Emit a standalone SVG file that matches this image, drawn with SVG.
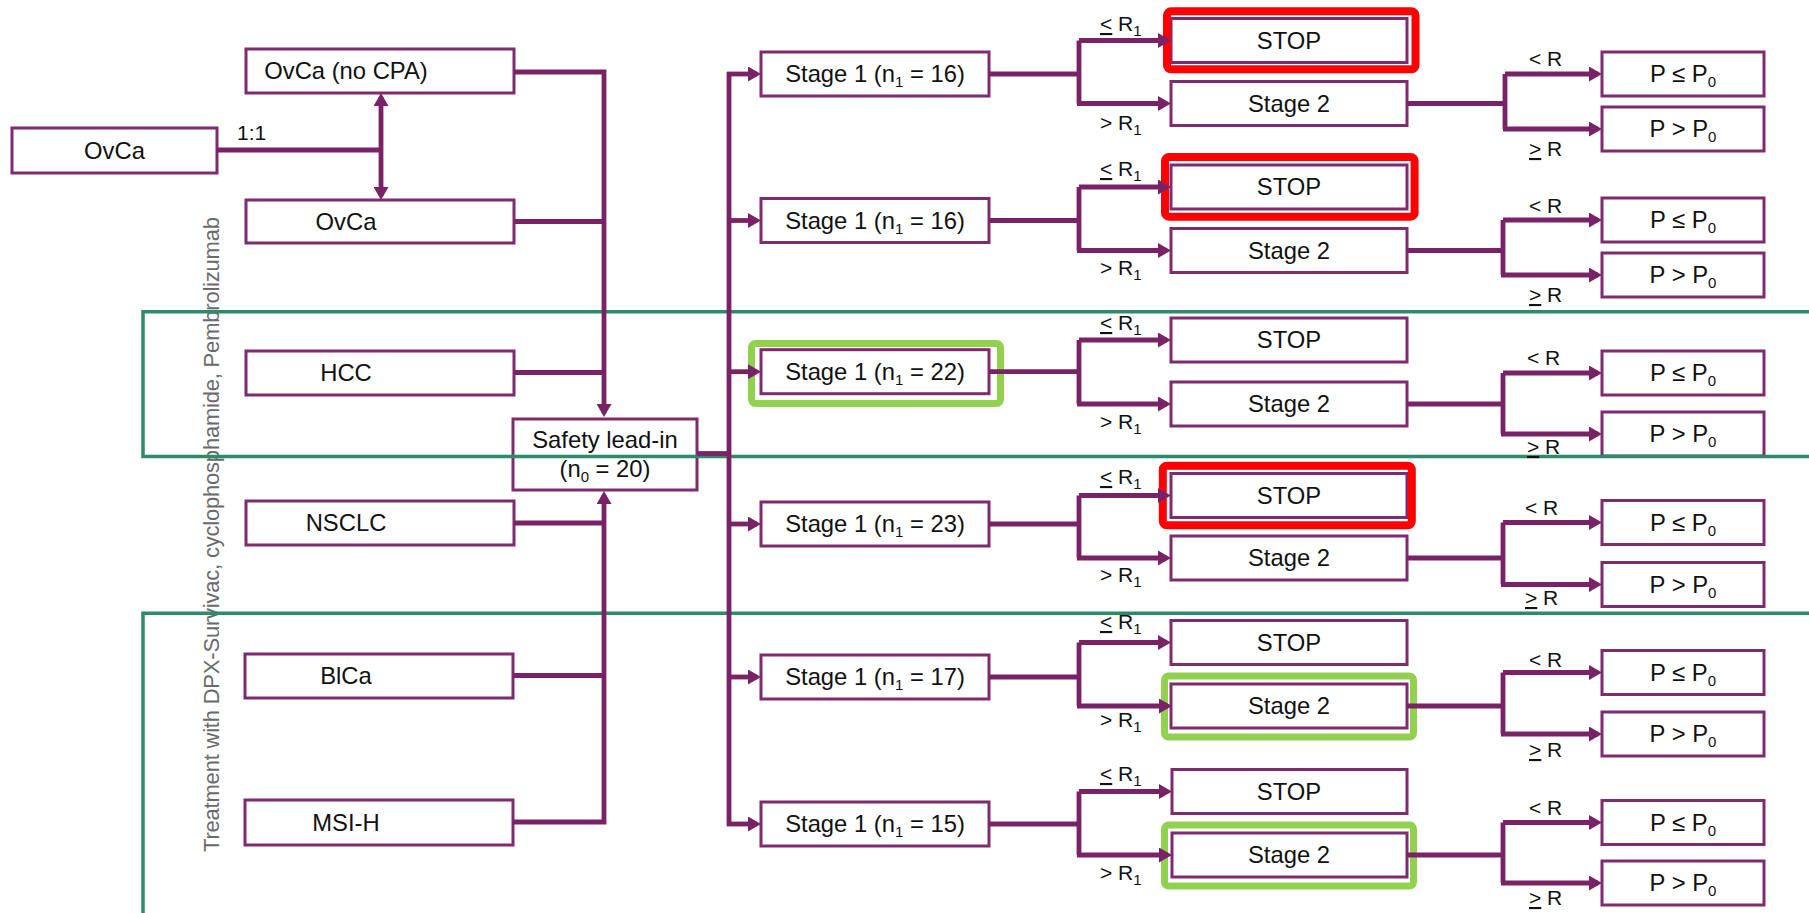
<svg xmlns="http://www.w3.org/2000/svg" width="1809" height="913" viewBox="0 0 1809 913">
<style>
.box{fill:#fff;stroke:#7F2B6F;stroke-width:3}
.t{font-family:"Liberation Sans",Arial,sans-serif;font-size:23.8px;fill:#111;text-anchor:middle}
.lbl{font-family:"Liberation Sans",Arial,sans-serif;font-size:21px;fill:#111}
.sub{font-size:15px}
.ul{text-decoration:underline}
.con{fill:none;stroke:#7A2266;stroke-width:4.8}
.arr{fill:none;stroke:#7A2266;stroke-width:4.8;marker-end:url(#ah)}
.red{fill:none;stroke:#FF0000;stroke-width:8}
.lg{fill:none;stroke:#92D050;stroke-width:7}
.grn{fill:none;stroke:#2E8B6A;stroke-width:3.5}
.vt{font-family:"Liberation Sans",Arial,sans-serif;font-size:22px;fill:#6A6A6A;text-anchor:middle}
</style>
<defs>
<marker id="ah" viewBox="0 0 13 15" refX="9" refY="7.5" markerWidth="13" markerHeight="15" markerUnits="userSpaceOnUse" orient="auto">
<path d="M0,0 L13,7.5 L0,15 z" fill="#7A2266"/>
</marker>
</defs>

<!-- vertical side label -->
<text class="vt" transform="translate(219,534.5) rotate(-90)" textLength="635" lengthAdjust="spacing">Treatment with DPX-Survivac, cyclophosphamide, Pembrolizumab</text>

<!-- left nodes -->
<g id="ovca-main"><rect class="box" x="12" y="128" width="205" height="45"/><text class="t" x="114.5" y="158.5">OvCa</text></g>
<g id="ovca-nocpa"><rect class="box" x="246" y="49" width="268" height="44"/><text class="t" x="346" y="79">OvCa (no CPA)</text></g>
<g id="ovca"><rect class="box" x="246" y="200" width="268" height="43"/><text class="t" x="346" y="229.5">OvCa</text></g>
<g id="hcc"><rect class="box" x="246" y="351" width="268" height="44"/><text class="t" x="346" y="381">HCC</text></g>
<g id="nsclc"><rect class="box" x="246" y="501" width="268" height="44"/><text class="t" x="346" y="531">NSCLC</text></g>
<g id="blca"><rect class="box" x="245" y="654" width="268" height="44"/><text class="t" x="346" y="684">BlCa</text></g>
<g id="msih"><rect class="box" x="245" y="800" width="268" height="45"/><text class="t" x="346" y="830.5">MSI-H</text></g>
<g id="safety"><rect class="box" x="513" y="419" width="184" height="71"/><text class="t" x="605" y="448">Safety lead-in</text><text class="t" x="605" y="476.5">(n<tspan class="sub" dy="5">0</tspan><tspan dy="-5"> = 20)</tspan></text></g>

<!-- stage 1 nodes -->
<g id="s1-r1"><rect class="box" x="761" y="52" width="228" height="44"/><text class="t" x="875" y="82">Stage 1 (n<tspan class="sub" dy="5">1</tspan><tspan dy="-5"> = 16)</tspan></text></g>
<g id="s1-r2"><rect class="box" x="761" y="198.5" width="228" height="44"/><text class="t" x="875" y="228.5">Stage 1 (n<tspan class="sub" dy="5">1</tspan><tspan dy="-5"> = 16)</tspan></text></g>
<g id="s1-r3"><rect class="box" x="761" y="349.7" width="228" height="44"/><text class="t" x="875" y="379.7">Stage 1 (n<tspan class="sub" dy="5">1</tspan><tspan dy="-5"> = 22)</tspan></text></g>
<g id="s1-r4"><rect class="box" x="761" y="502" width="228" height="44"/><text class="t" x="875" y="532">Stage 1 (n<tspan class="sub" dy="5">1</tspan><tspan dy="-5"> = 23)</tspan></text></g>
<g id="s1-r5"><rect class="box" x="761" y="655" width="228" height="44"/><text class="t" x="875" y="685">Stage 1 (n<tspan class="sub" dy="5">1</tspan><tspan dy="-5"> = 17)</tspan></text></g>
<g id="s1-r6"><rect class="box" x="761" y="802" width="228" height="44"/><text class="t" x="875" y="832">Stage 1 (n<tspan class="sub" dy="5">1</tspan><tspan dy="-5"> = 15)</tspan></text></g>

<!-- STOP / Stage 2 nodes -->
<g id="stop-r1"><rect class="box" x="1171" y="18.5" width="236" height="44"/><text class="t" x="1289" y="48.5">STOP</text></g>
<g id="s2-r1"><rect class="box" x="1171" y="81.5" width="236" height="44"/><text class="t" x="1289" y="111.5">Stage 2</text></g>
<g id="stop-r2"><rect class="box" x="1171" y="165" width="236" height="44"/><text class="t" x="1289" y="195">STOP</text></g>
<g id="s2-r2"><rect class="box" x="1171" y="228.5" width="236" height="44"/><text class="t" x="1289" y="258.5">Stage 2</text></g>
<g id="stop-r3"><rect class="box" x="1171" y="318" width="236" height="44"/><text class="t" x="1289" y="348">STOP</text></g>
<g id="s2-r3"><rect class="box" x="1171" y="382" width="236" height="44"/><text class="t" x="1289" y="412">Stage 2</text></g>
<g id="stop-r4"><rect class="box" x="1171" y="473.5" width="236" height="44"/><text class="t" x="1289" y="503.5">STOP</text></g>
<g id="s2-r4"><rect class="box" x="1171" y="536" width="236" height="44"/><text class="t" x="1289" y="566">Stage 2</text></g>
<g id="stop-r5"><rect class="box" x="1171" y="620.5" width="236" height="44"/><text class="t" x="1289" y="650.5">STOP</text></g>
<g id="s2-r5"><rect class="box" x="1171" y="684" width="236" height="44"/><text class="t" x="1289" y="714">Stage 2</text></g>
<g id="stop-r6"><rect class="box" x="1172" y="769.5" width="235" height="44"/><text class="t" x="1289" y="799.5">STOP</text></g>
<g id="s2-r6"><rect class="box" x="1172" y="833" width="235" height="44"/><text class="t" x="1289" y="863">Stage 2</text></g>

<!-- P nodes -->
<g id="ple-r1"><rect class="box" x="1602" y="52" width="162" height="44"/><text class="t" x="1683" y="82">P ≤ P<tspan class="sub" dy="5">0</tspan></text></g>
<g id="pgt-r1"><rect class="box" x="1602" y="107" width="162" height="44"/><text class="t" x="1683" y="137">P &gt; P<tspan class="sub" dy="5">0</tspan></text></g>
<g id="ple-r2"><rect class="box" x="1602" y="198" width="162" height="44"/><text class="t" x="1683" y="228">P ≤ P<tspan class="sub" dy="5">0</tspan></text></g>
<g id="pgt-r2"><rect class="box" x="1602" y="253" width="162" height="44"/><text class="t" x="1683" y="283">P &gt; P<tspan class="sub" dy="5">0</tspan></text></g>
<g id="ple-r3"><rect class="box" x="1602" y="351" width="162" height="44"/><text class="t" x="1683" y="381">P ≤ P<tspan class="sub" dy="5">0</tspan></text></g>
<g id="pgt-r3"><rect class="box" x="1602" y="412" width="162" height="44"/><text class="t" x="1683" y="442">P &gt; P<tspan class="sub" dy="5">0</tspan></text></g>
<g id="ple-r4"><rect class="box" x="1602" y="500.5" width="162" height="44"/><text class="t" x="1683" y="530.5">P ≤ P<tspan class="sub" dy="5">0</tspan></text></g>
<g id="pgt-r4"><rect class="box" x="1602" y="562.5" width="162" height="44"/><text class="t" x="1683" y="592.5">P &gt; P<tspan class="sub" dy="5">0</tspan></text></g>
<g id="ple-r5"><rect class="box" x="1602" y="650.5" width="162" height="44"/><text class="t" x="1683" y="680.5">P ≤ P<tspan class="sub" dy="5">0</tspan></text></g>
<g id="pgt-r5"><rect class="box" x="1602" y="712" width="162" height="44"/><text class="t" x="1683" y="742">P &gt; P<tspan class="sub" dy="5">0</tspan></text></g>
<g id="ple-r6"><rect class="box" x="1602" y="800.5" width="162" height="44"/><text class="t" x="1683" y="830.5">P ≤ P<tspan class="sub" dy="5">0</tspan></text></g>
<g id="pgt-r6"><rect class="box" x="1602" y="861" width="162" height="44"/><text class="t" x="1683" y="891">P &gt; P<tspan class="sub" dy="5">0</tspan></text></g>

<!-- highlight frames -->
<g id="highlights">
<rect class="red" x="1167" y="11.3" width="248.5" height="58" rx="4"/>
<rect class="red" x="1165" y="157" width="249.6" height="59.7" rx="4"/>
<rect class="red" x="1162.8" y="465.7" width="249" height="59.6" rx="4"/>
<rect class="lg" x="751.5" y="343.5" width="249" height="60" rx="4"/>
<rect class="lg" x="1164.5" y="676" width="249" height="61" rx="4"/>
<rect class="lg" x="1164.5" y="825" width="249" height="61" rx="4"/>
</g>

<!-- cohort frames -->
<g id="frames">
<path class="grn" d="M1812,311.7 H143 V456.5 H1812"/>
<path class="grn" d="M1812,613.3 H143 V918"/>
</g>

<!-- connectors -->
<g id="connectors">
<path class="con" d="M217,150 H381"/>
<path class="arr" d="M381,150 V97"/>
<path class="arr" d="M381,150 V196"/>
<path class="arr" d="M514,72 H604 V413"/>
<path class="con" d="M514,221.5 H604"/>
<path class="con" d="M514,372.5 H604"/>
<path class="con" d="M514,523 H604"/>
<path class="con" d="M513,675.5 H604"/>
<path class="arr" d="M513,822 H604 V495"/>
<path class="con" d="M697,453.5 H729"/>
<path class="con" d="M729,72 V826"/>
<path class="arr" d="M727,74 H757"/>
<path class="arr" d="M729,220.5 H757"/>
<path class="arr" d="M729,371.7 H757"/>
<path class="arr" d="M729,524 H757"/>
<path class="arr" d="M729,677 H757"/>
<path class="arr" d="M727,824 H757"/>
<!-- stage 1 branches -->
<path class="con" d="M989,74 H1079"/><path class="arr" d="M1079,40.5 V103.5 M1079,40.5 H1167"/><path class="arr" d="M1077,103.5 H1167"/>
<path class="con" d="M989,220.5 H1079"/><path class="arr" d="M1079,187 V250.5 M1079,187 H1167"/><path class="arr" d="M1077,250.5 H1167"/>
<path class="con" d="M989,371.7 H1079"/><path class="arr" d="M1079,340 V404 M1079,340 H1167"/><path class="arr" d="M1077,404 H1167"/>
<path class="con" d="M989,524 H1079"/><path class="arr" d="M1079,495.5 V558 M1079,495.5 H1167"/><path class="arr" d="M1077,558 H1167"/>
<path class="con" d="M989,677 H1079"/><path class="arr" d="M1079,642.5 V706 M1079,642.5 H1167"/><path class="arr" d="M1077,706 H1168"/>
<path class="con" d="M989,824 H1079"/><path class="arr" d="M1079,791.5 V855 M1079,791.5 H1168"/><path class="arr" d="M1077,855 H1168"/>
<!-- stage 2 branches -->
<path class="con" d="M1407,103.5 H1505"/><path class="arr" d="M1505,74 V129 M1505,74 H1598"/><path class="arr" d="M1503,129 H1598"/>
<path class="con" d="M1407,250.5 H1503"/><path class="arr" d="M1503,220 V275 M1503,220 H1598"/><path class="arr" d="M1501,275 H1598"/>
<path class="con" d="M1407,404 H1503"/><path class="arr" d="M1503,373 V434 M1503,373 H1598"/><path class="arr" d="M1501,434 H1598"/>
<path class="con" d="M1407,558 H1503"/><path class="arr" d="M1503,522.5 V584.5 M1503,522.5 H1598"/><path class="arr" d="M1501,584.5 H1598"/>
<path class="con" d="M1407,706 H1503"/><path class="arr" d="M1503,672.5 V734 M1503,672.5 H1598"/><path class="arr" d="M1501,734 H1598"/>
<path class="con" d="M1407,855 H1503"/><path class="arr" d="M1503,822.5 V883 M1503,822.5 H1598"/><path class="arr" d="M1501,883 H1598"/>
</g>

<!-- connector labels -->
<g id="labels">
<text class="lbl" x="237" y="140">1:1</text>
<text class="lbl" x="1100" y="31"><tspan class="ul">&lt;</tspan> R<tspan class="sub" dy="5">1</tspan></text>
<text class="lbl" x="1100" y="130">&gt; R<tspan class="sub" dy="5">1</tspan></text>
<text class="lbl" x="1100" y="176"><tspan class="ul">&lt;</tspan> R<tspan class="sub" dy="5">1</tspan></text>
<text class="lbl" x="1100" y="275">&gt; R<tspan class="sub" dy="5">1</tspan></text>
<text class="lbl" x="1100" y="330"><tspan class="ul">&lt;</tspan> R<tspan class="sub" dy="5">1</tspan></text>
<text class="lbl" x="1100" y="429">&gt; R<tspan class="sub" dy="5">1</tspan></text>
<text class="lbl" x="1100" y="484"><tspan class="ul">&lt;</tspan> R<tspan class="sub" dy="5">1</tspan></text>
<text class="lbl" x="1100" y="582">&gt; R<tspan class="sub" dy="5">1</tspan></text>
<text class="lbl" x="1100" y="629"><tspan class="ul">&lt;</tspan> R<tspan class="sub" dy="5">1</tspan></text>
<text class="lbl" x="1100" y="727">&gt; R<tspan class="sub" dy="5">1</tspan></text>
<text class="lbl" x="1100" y="781"><tspan class="ul">&lt;</tspan> R<tspan class="sub" dy="5">1</tspan></text>
<text class="lbl" x="1100" y="880">&gt; R<tspan class="sub" dy="5">1</tspan></text>
<text class="lbl" x="1529" y="66">&lt; R</text>
<text class="lbl" x="1529" y="156"><tspan class="ul">&gt;</tspan> R</text>
<text class="lbl" x="1529" y="213">&lt; R</text>
<text class="lbl" x="1529" y="302"><tspan class="ul">&gt;</tspan> R</text>
<text class="lbl" x="1527" y="365">&lt; R</text>
<text class="lbl" x="1527" y="454"><tspan class="ul">&gt;</tspan> R</text>
<text class="lbl" x="1525" y="515">&lt; R</text>
<text class="lbl" x="1525" y="605"><tspan class="ul">&gt;</tspan> R</text>
<text class="lbl" x="1529" y="667">&lt; R</text>
<text class="lbl" x="1529" y="757"><tspan class="ul">&gt;</tspan> R</text>
<text class="lbl" x="1529" y="815">&lt; R</text>
<text class="lbl" x="1529" y="905"><tspan class="ul">&gt;</tspan> R</text>
</g>
</svg>
